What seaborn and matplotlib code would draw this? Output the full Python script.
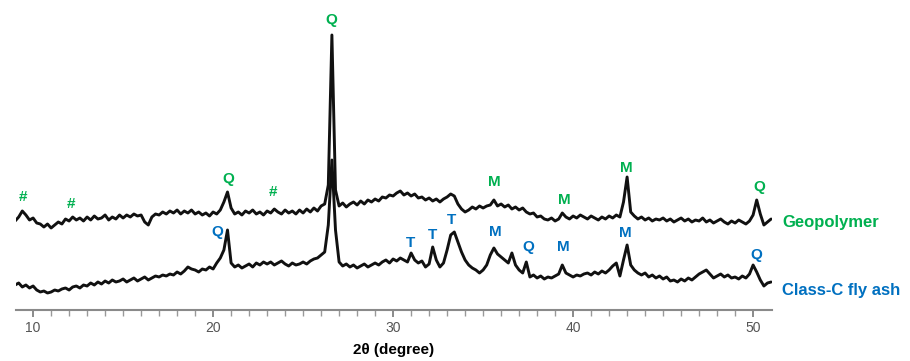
import numpy as np
import pandas as pd
import matplotlib
matplotlib.use("Agg")
import matplotlib.pyplot as plt
import seaborn as sns

# 2-theta scan grid (degrees), step 0.2
two_theta = np.round(np.arange(9.0, 51.0001, 0.2), 1)

# Geopolymer intensity (arbitrary units, offset trace)
geopolymer = [
    89, 93, 99, 95, 90, 92, 87, 86, 83, 86,
    82, 85, 88, 86, 91, 89, 93, 90, 92, 89,
    93, 90, 94, 91, 92, 95, 90, 93, 91, 95,
    92, 95, 93, 96, 94, 95, 88, 85, 93, 96,
    95, 98, 96, 99, 97, 100, 96, 99, 97, 100,
    96, 98, 95, 97, 94, 98, 96, 100, 108, 118,
    102, 96, 98, 95, 99, 97, 100, 96, 98, 95,
    99, 97, 101, 98, 96, 100, 97, 99, 96, 100,
    97, 101, 98, 102, 99, 104, 106, 125, 275, 120,
    104, 107, 103, 106, 108, 105, 109, 106, 110, 108,
    111, 109, 113, 112, 115, 114, 117, 119, 115, 117,
    114, 116, 112, 113, 110, 112, 109, 111, 108, 111,
    113, 116, 114, 106, 101, 98, 100, 103, 101, 104,
    102, 104, 105, 110, 104, 106, 103, 105, 101, 103,
    100, 102, 98, 96, 97, 93, 94, 91, 90, 92,
    89, 91, 97, 93, 91, 94, 92, 95, 93, 91,
    94, 92, 90, 93, 91, 94, 92, 95, 93, 108,
    133, 98, 94, 91, 93, 90, 92, 89, 91, 90,
    92, 89, 91, 88, 90, 92, 89, 91, 88, 90,
    89, 92, 88, 90, 87, 89, 91, 88, 86, 89,
    87, 90, 88, 86, 89, 95, 110, 96, 85, 88,
    91,
]

# Class-C fly ash intensity (arbitrary units)
fly_ash = [
    25, 27, 23, 25, 22, 24, 20, 18, 19, 17,
    18, 20, 19, 21, 22, 20, 23, 24, 22, 25,
    24, 27, 25, 28, 26, 29, 27, 30, 28, 29,
    31, 28, 30, 32, 29, 31, 33, 30, 32, 34,
    33, 35, 34, 36, 35, 38, 36, 39, 43, 41,
    40, 38, 41, 40, 43, 41, 47, 52, 60, 80,
    47, 43, 45, 42, 44, 46, 43, 47, 45, 48,
    46, 48, 45, 47, 49, 46, 44, 47, 45, 46,
    48, 46, 49, 51, 52, 55, 58, 85, 150, 80,
    48, 44, 46, 43, 45, 42, 44, 46, 43, 45,
    47, 45, 48, 50, 47, 51, 49, 52, 50, 48,
    57, 50, 47, 49, 43, 46, 63, 50, 43, 47,
    60, 75, 78, 68, 58, 50, 45, 42, 40, 37,
    40, 45, 55, 62, 56, 53, 50, 47, 57, 45,
    40, 37, 48, 33, 35, 32, 34, 31, 33, 32,
    34, 36, 45, 37, 35, 33, 35, 34, 36, 37,
    35, 38, 36, 39, 37, 40, 44, 47, 34, 50,
    65, 45, 40, 37, 35, 37, 33, 35, 32, 34,
    31, 33, 29, 30, 28, 31, 29, 32, 30, 33,
    36, 38, 40, 36, 32, 34, 36, 33, 35, 32,
    33, 31, 34, 32, 36, 45, 38, 30, 24, 27,
    28,
]

series_names = ["Geopolymer", "Class-C fly ash"]
series_colors = ["#00B050", "#0070C0"]

# phase labels: (label, 2theta, label height)
geo_labels = [("#", 9.44, 113), ("#", 12.11, 106), ("Q", 20.83, 131), ("#", 23.33, 118),
              ("Q", 26.56, 290), ("M", 35.61, 128), ("M", 39.5, 110), ("M", 42.94, 142),
              ("Q", 50.33, 123)]
ash_labels = [("Q", 20.22, 78), ("T", 30.94, 67), ("T", 32.17, 75), ("T", 33.22, 90),
              ("M", 35.67, 78), ("Q", 37.5, 63), ("M", 39.44, 63), ("M", 42.89, 77),
              ("Q", 50.17, 55)]

df = pd.DataFrame({
    "two_theta": np.concatenate([two_theta, two_theta]),
    "intensity": np.concatenate([geopolymer, fly_ash]),
    "sample": [series_names[0]] * len(two_theta) + [series_names[1]] * len(two_theta),
})

sns.set_theme(style="white")
plt.rcParams["font.family"] = ["Liberation Sans", "DejaVu Sans"]

fig = plt.figure(figsize=(9.10, 3.61), dpi=100)
ax = fig.add_axes([16 / 910, 51 / 361, (772 - 16) / 910, 300 / 361])

sns.lineplot(data=df, x="two_theta", y="intensity", units="sample", estimator=None,
             color="#111111", linewidth=2.1, ax=ax, legend=False)

ax.set_xlim(9.05, 51.05)
ax.set_ylim(0, 300)

for lab, xx, yy in geo_labels:
    ax.text(xx, yy, lab, color=series_colors[0], fontsize=11, fontweight="bold",
            ha="center", va="center", clip_on=False)
for lab, xx, yy in ash_labels:
    ax.text(xx, yy, lab, color=series_colors[1], fontsize=11, fontweight="bold",
            ha="center", va="center", clip_on=False)

ax.text(51.6, 88, series_names[0], color=series_colors[0], fontsize=12,
        fontweight="bold", ha="left", va="center", clip_on=False)
ax.text(51.6, 20, series_names[1], color=series_colors[1], fontsize=12,
        fontweight="bold", ha="left", va="center", clip_on=False)

for s in ["top", "right", "left"]:
    ax.spines[s].set_visible(False)
ax.spines["bottom"].set_color("#8a8a8a")
ax.spines["bottom"].set_linewidth(1.5)

ax.set_yticks([])
ax.set_xticks([10, 20, 30, 40, 50])
ax.set_xticks(np.arange(10, 51, 1), minor=True)
ax.tick_params(axis="x", which="major", bottom=True, length=5, width=1.2, color="#777777",
               labelsize=10, labelcolor="#555555", pad=3, direction="out")
ax.tick_params(axis="x", which="minor", bottom=True, length=4, width=1.0, color="#999999",
               direction="out")

ax.set_xlabel("2θ (degree)", fontsize=11, fontweight="bold", color="black", labelpad=6)
ax.set_ylabel("")

fig.savefig("out.png", dpi=100)
